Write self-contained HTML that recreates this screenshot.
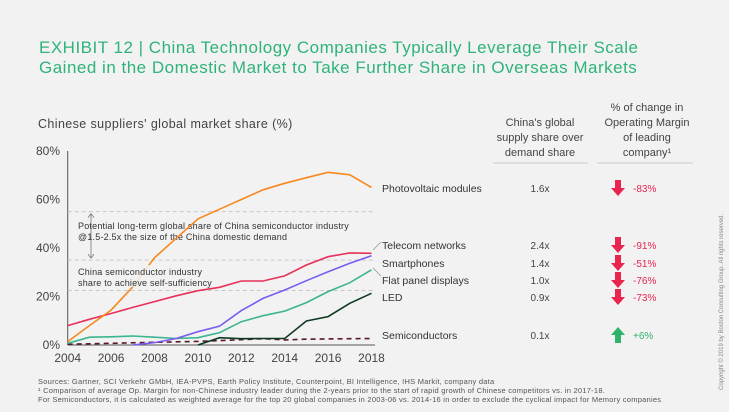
<!DOCTYPE html>
<html><head><meta charset="utf-8"><style>
body{margin:0;background:#f2f2f2;font-family:"Liberation Sans",sans-serif;}
svg{display:block}
</style></head><body>
<svg width="729" height="412" viewBox="0 0 729 412" xmlns="http://www.w3.org/2000/svg">
<rect width="729" height="412" fill="#f2f2f2"/>
<g font-family="Liberation Sans, sans-serif">
<text x="39" y="53" font-size="17" letter-spacing="0.5" fill="#2fb37a">EXHIBIT 12 | China Technology Companies Typically Leverage Their Scale</text>
<text x="39" y="73" font-size="17" letter-spacing="0.5" fill="#2fb37a">Gained in the Domestic Market to Take Further Share in Overseas Markets</text>
<text x="38" y="128" font-size="12.5" letter-spacing="0.4" fill="#444">Chinese suppliers' global market share (%)</text>
<g font-size="11" fill="#444" text-anchor="middle">
<text x="540" y="126">China's global</text>
<text x="540" y="141">supply share over</text>
<text x="540" y="156">demand share</text>
<text x="647" y="111">% of change in</text>
<text x="647" y="126">Operating Margin</text>
<text x="647" y="141">of leading</text>
<text x="647" y="156">company¹</text>
</g>
<line x1="493" y1="163" x2="588" y2="163" stroke="#ccc"/>
<line x1="597" y1="163" x2="693" y2="163" stroke="#ccc"/>
<g font-size="6" fill="#888" font-family="Liberation Sans, sans-serif"><text transform="translate(723,390) rotate(-90)">Copyright © 2019 by Boston Consulting Group. All rights reserved.</text></g>
<g font-size="7.5" fill="#555" letter-spacing="0.25">
<text x="38" y="384">Sources: Gartner, SCI Verkehr GMbH, IEA-PVPS, Earth Policy Institute, Counterpoint, BI Intelligence, IHS Markit, company data</text>
<text x="38" y="393">¹ Comparison of average Op. Margin for non-Chinese industry leader during the 2-years prior to the start of rapid growth of Chinese competitors vs. in 2017-18.</text>
<text x="38" y="402">For Semiconductors, it is calculated as weighted average for the top 20 global companies in 2003-06 vs. 2014-16 in order to exclude the cyclical impact for Memory companies</text>
</g>
<g id="chart"></g>
<g id="right"></g>
</g>
</svg>
<script>
const years=[2004,2005,2006,2007,2008,2009,2010,2011,2012,2013,2014,2015,2016,2017,2018];
const pvValues=[1.4,8,14.4,24,36,44,52,56,60,64,66.7,69,71.2,70.2,65];
const telecomValues=[8,10.6,13,15.5,17.9,20.3,22.4,23.8,26.4,26.4,28.5,33,36.4,38,37.8];
const smartphoneValues=[null,null,null,0,1,2.7,5.5,7.8,14.2,19.2,22.7,26.5,30.2,33.7,36.8];
const flatPanelValues=[0.7,3.2,3.4,3.7,3.2,2.7,3,5.1,9.6,12.1,14,17.5,22,25.7,31];
const ledValues=[null,null,null,null,null,null,0,3,2.6,2.7,2.7,9.9,11.7,17.2,21.3];
const semiValues=[0.3,0.5,0.7,0.9,1.1,1.3,1.5,1.8,2.2,2.6,2.1,2.4,2.5,2.6,2.7];
const yTicks=[0,20,40,60,80];
const xTicks=[2004,2006,2008,2010,2012,2014,2016,2018];
const refLines=[55,35,22.5];
const seriesNames=["Photovoltaic modules","Telecom networks","Smartphones","Flat panel displays","LED","Semiconductors"];
const supplyRatios=["1.6x","2.4x","1.4x","1.0x","0.9x","0.1x"];
const marginChanges=[-83,-91,-51,-76,-73,6];
const NS="http://www.w3.org/2000/svg";
const x=v=>67.7+(v-2004)*21.7;
const y=v=>345-v*2.425;
const g=document.getElementById('chart');
function mk(t,a,p){const e=document.createElementNS(NS,t);for(const k in a)e.setAttribute(k,a[k]);(p||g).appendChild(e);return e;}
let ax=mk('line',{x1:67.7,y1:y(80),x2:67.7,y2:345,stroke:'#555'});


ax=mk('line',{x1:67.7,y1:345,x2:375,y2:345,stroke:'#555'});


yTicks.forEach(t=>{const e=mk('text',{x:60,y:y(t)+4,'font-size':12,fill:'#444','text-anchor':'end'});e.textContent=t+'%';

});
xTicks.forEach(t=>{const e=mk('text',{x:x(t),y:362,'font-size':12,fill:'#444','text-anchor':'middle'});e.textContent=t;

});
refLines.forEach(r=>{const e=mk('line',{x1:67.7,x2:373,y1:y(r),y2:y(r),stroke:'#c8c8c8','stroke-dasharray':'4,3'});

});
let ar=mk('path',{d:`M91 ${y(55)+2} V${y(35)-2} M88 ${y(55)+6} L91 ${y(55)+2} L94 ${y(55)+6} M88 ${y(35)-6} L91 ${y(35)-2} L94 ${y(35)-6}`,stroke:'#777',fill:'none','stroke-width':0.8});


function line(vals,color,name,dash){let d='';vals.forEach((v,i)=>{if(v==null)return;d+=(d?'L':'M')+x(years[i]).toFixed(1)+' '+y(v).toFixed(1);});
const e=mk('path',{d:d,stroke:color,fill:'none','stroke-width':1.6});if(dash)e.setAttribute('stroke-dasharray',dash);

}
line(semiValues,'#5a1a2a','line-semiconductors','5,4');
line(ledValues,'#0e3a22','line-led');
line(flatPanelValues,'#3bb58f','line-flat-panel');
line(smartphoneValues,'#7b5cf0','line-smartphones');
line(telecomValues,'#e8305a','line-telecom');
const t1=mk('text',{x:78,y:229,'font-size':9,'letter-spacing':0.2,fill:'#333'});t1.textContent='Potential long-term global share of China semiconductor industry';


const t2=mk('text',{x:78,y:240,'font-size':9,'letter-spacing':0.2,fill:'#333'});t2.textContent='@1.5-2.5x the size of the China domestic demand';


line(pvValues,'#f7881f','line-photovoltaic');
const bg=mk('rect',{x:76,y:265,width:140,height:22,fill:'#f2f2f2',opacity:0.85});


const t3=mk('text',{x:78,y:275,'font-size':9,'letter-spacing':0.2,fill:'#333'});t3.textContent='China semiconductor industry';


const t4=mk('text',{x:78,y:286,'font-size':9,'letter-spacing':0.2,fill:'#333'});t4.textContent='share to achieve self-sufficiency';


const rowY=[188,245,263,280,297,335];
const r=document.getElementById('right');
seriesNames.forEach((n,i)=>{
 const a=mk('text',{x:382,y:rowY[i]+4,'font-size':10.5,fill:'#333'},r);a.textContent=n;
 
 
 const b=mk('text',{x:540,y:rowY[i]+4,'font-size':10,fill:'#444','text-anchor':'middle'},r);b.textContent=supplyRatios[i];
 
 
 const up=marginChanges[i]>0;const c=up?'#2fb36a':'#e8244f';const cx=618,cy=rowY[i];
 const p=up?`M${cx-3} ${cy+8}V${cy}H${cx-7}L${cx} ${cy-8}L${cx+7} ${cy}H${cx+3}V${cy+8}Z`:`M${cx-3} ${cy-8}V${cy}H${cx-7}L${cx} ${cy+8}L${cx+7} ${cy}H${cx+3}V${cy-8}Z`;
 const ar=mk('path',{d:p,fill:c},r);
 
 
 const m=mk('text',{x:633,y:rowY[i]+4,'font-size':10,fill:c},r);m.textContent=(up?'+':'')+marginChanges[i]+'%';
 
 
});
const ld=mk('path',{d:'M373 250 L381 242 M373 268 L381 276',stroke:'#888','stroke-width':0.6,fill:'none'},r);


</script>
</body></html>
